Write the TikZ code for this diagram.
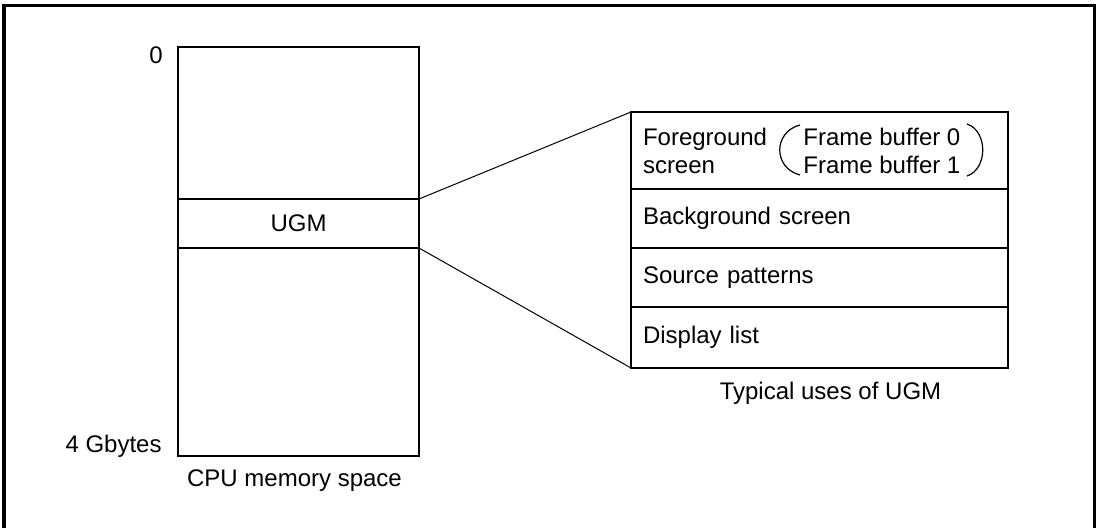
\documentclass[tikz,border=0pt]{standalone}
\usepackage{fontspec}
\setmainfont{Liberation Sans}
\usepackage{tikz}
\usetikzlibrary{positioning}

\begin{document}
\begin{tikzpicture}[x=0.5pt,y=-0.5pt,
		font=\fontsize{12}{14}\selectfont,
		membox/.style={draw, line width=1.3pt, minimum width=120.5pt,
			inner sep=0pt, outer sep=0pt},
		usebox/.style={draw, line width=1.3pt, text width=176.5pt,
			inner xsep=6pt, inner ysep=0pt, outer sep=0pt, align=left},
		lbl/.style={inner sep=0pt},
		link/.style={line width=0.5pt},
		paren/.style={line width=0.6pt},
		frame/.style={line width=1.5pt}
		]
		\useasboundingbox (0,0) rectangle (1100,528);
		\draw[frame] (4,528) -- (4,5.5) -- (1094,5.5) -- (1094,528);

		%% CPU memory space
		\node[membox, minimum height=76pt, anchor=north west] (mtop) at (178,47) {};
		\node[membox, minimum height=24.5pt, below=0pt of mtop] (ugm) {UGM};
		\node[membox, minimum height=104pt, below=0pt of ugm] (mbot) {};
		\node[lbl, left=7.5pt of mtop.north west, yshift=-4pt] (top0) {0};
		\node[lbl, left=8pt of mbot.south west, yshift=5pt] (size4g) {4 Gbytes};
		\node[lbl, below=6.5pt of mbot.south, xshift=-2pt] (cpucap) {CPU memory space};

		%% typical uses of UGM
		\node[usebox, minimum height=38.5pt, anchor=north west] (fg) at (631,112) {Foreground\\screen};
		\node[usebox, minimum height=29.5pt, below=0pt of fg] (bg) {Background screen};
		\node[usebox, minimum height=29.5pt, below=0pt of bg] (sp) {Source patterns};
		\node[usebox, minimum height=30.5pt, below=0pt of sp] (dl) {Display list};
		\node[lbl, below=7pt of dl.south, xshift=5.5pt] (usecap) {Typical uses of UGM};

		% frame buffers
		\node[lbl, align=left, anchor=west] (fbuf) at (803,151) {Frame buffer 0\\Frame buffer 1};
		\draw[paren] (800,125) .. controls (773,132) and (773,168) .. (800,175);
		\draw[paren] (967,124) .. controls (988,131) and (988,169) .. (967,176);

		% zoom lines
		\draw[link] (ugm.north east) -- (fg.north west);
		\draw[link] (ugm.south east) -- (dl.south west);
\end{tikzpicture}
\end{document}
